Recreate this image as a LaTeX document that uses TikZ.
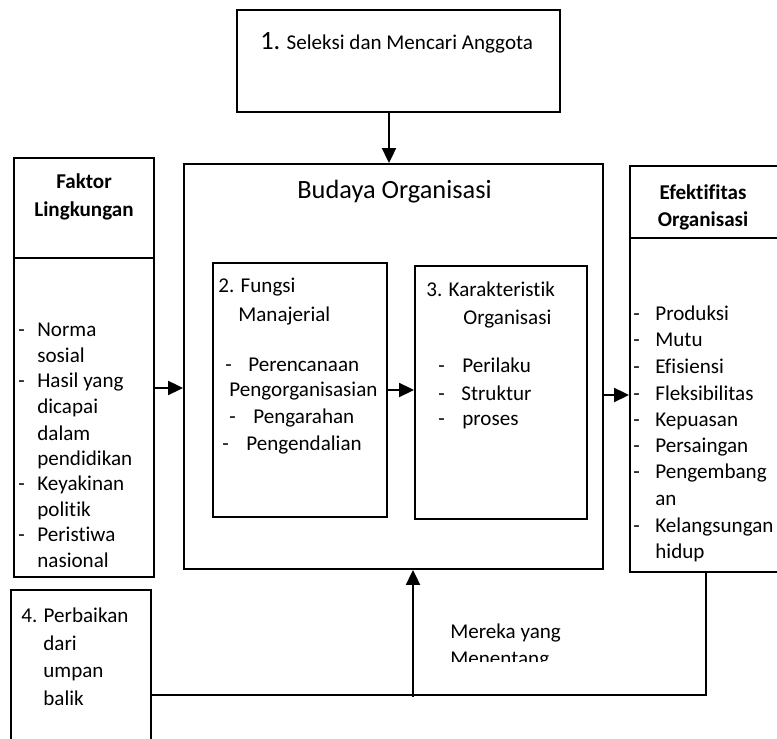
\documentclass[tikz,border=0pt]{standalone}
\usepackage{fontspec}
\setmainfont{Carlito}[Ligatures={NoCommon,NoContextual}, RawFeature={-liga;-clig;-dlig}]
\usetikzlibrary{arrows.meta, calc}

\tikzset{
  box/.style={draw, line width=1.1pt, inner sep=0pt},
  arr/.style={-{Triangle[length=0.3cm, width=0.28cm]}, line width=1.1pt},
  txt/.style={anchor=base west, inner sep=0pt, font=\fontsize{12}{14}\selectfont},
  head/.style={anchor=base, inner sep=0pt, font=\fontsize{12}{14}\selectfont\bfseries},
}

\begin{document}
\begin{tikzpicture}[x=0.02cm, y=-0.02cm]
  \useasboundingbox (0,0) rectangle (777,739);
  \fill[white] (0,0) rectangle (777,739);
  \clip (0,0) rectangle (777,739);

  % Seleksi
  \node[box, minimum width=6.46cm, minimum height=2.04cm] (seleksi) at (398.5,61) {};
  \node[txt] (seleksi-txt) at (260,50) {{\fontsize{15}{18}\selectfont 1.} Seleksi dan Mencari Anggota};

  % Budaya organisasi
  \node[box, minimum width=8.38cm, minimum height=8.1cm] (budaya) at (393.5,366.5) {};
  \node[txt, font=\fontsize{15}{18}\selectfont] (budaya-txt) at (297,199) {Budaya Organisasi};

  % Fungsi manajerial
  \node[box, minimum width=3.48cm, minimum height=5.08cm] (fungsi) at (300,390) {};
  \foreach \x/\y/\t [count=\i] in {218/293/{2. Fungsi}, 238/322/Manajerial,
      225/372/-, 248/372/Perencanaan, 229/397/Pengorganisasian,
      229/423/-, 253/423/Pengarahan, 222/450/-, 246/450/Pengendalian}
    \node[txt] (fm\i) at (\x,\y) {\t};

  % Karakteristik organisasi
  \node[box, minimum width=3.44cm, minimum height=5.06cm] (karakter) at (501,392.5) {};
  \foreach \x/\y/\t [count=\i] in {426/297/{3. Karakteristik}, 463/325/Organisasi,
      438/373/-, 462/373/Perilaku, 438/400/-, 461/400/Struktur,
      438/425/-, 462/425/proses}
    \node[txt] (ko\i) at (\x,\y) {\t};

  % Faktor lingkungan
  \node[box, minimum width=2.8cm, minimum height=8.38cm] (faktor) at (84,367.5) {};
  \coordinate (faktor-sep) at (0,258);
  \draw[line width=1.1pt] (faktor.west |- faktor-sep) -- (faktor.east |- faktor-sep);
  \node[head] (faktor-h1) at (84,189) {Faktor};
  \node[head] (faktor-h2) at (84,217) {Lingkungan};
  \foreach \y/\t in {337/Norma, 363/sosial, 388/{Hasil yang}, 414/dicapai, 440/dalam,
      465/pendidikan, 490/Keyakinan, 516/politik, 541/Peristiwa, 567/nasional}
    \node[txt] (fk\y) at (37,\y) {\t};
  \foreach \y in {337,388,490,541}
    \node[txt] (fk-d\y) at (18,\y) {-};

  % Efektifitas organisasi
  \node[box, minimum width=3.4cm, minimum height=8.12cm] (efektif) at (715,369) {};
  \coordinate (efektif-sep) at (0,238);
  \draw[line width=1.1pt] (efektif.west |- efektif-sep) -- (efektif.east |- efektif-sep);
  \node[head] (efektif-h1) at (703,200) {Efektifitas};
  \node[head] (efektif-h2) at (703,227) {Organisasi};
  \foreach \y/\t in {321/Produksi, 347/Mutu, 374/Efisiensi, 400/Fleksibilitas,
      426/Kepuasan, 453/Persaingan, 479/Pengembang, 505/an, 532/Kelangsungan, 558/hidup}
    \node[txt] (ef\y) at (655,\y) {\t};
  \foreach \y in {321,347,374,400,426,453,479,532}
    \node[txt] (ef-d\y) at (633,\y) {-};

  % Perbaikan
  \node[box, minimum width=2.8cm, minimum height=3.8cm] (perbaikan) at (81,685) {};
  \foreach \x/\y/\t [count=\i] in {21/622/{4. Perbaikan}, 43/650/dari, 43/677/umpan, 43/705/balik}
    \node[txt] (pb\i) at (\x,\y) {\t};

  % Mereka yang menentang
  \coordinate (lawan) at (413,697);
  \node[txt] (lawan-txt1) at (450,638) {Mereka yang};
  \begin{scope}
    \clip (440,645) rectangle (600,661);
    \node[txt] (lawan-txt2) at (450,665) {Menentang};
  \end{scope}

  % Panah
  \draw[arr] ([xshift=-0.19cm]seleksi.south) -- ([xshift=-0.09cm]budaya.north);
  \draw[arr] ([yshift=-0.41cm]faktor.east) -- ([yshift=-0.43cm]budaya.west);
  \draw[arr] (fungsi.east) -- (fungsi.east -| karakter.west);
  \draw[arr] ([yshift=-0.57cm]budaya.east) -- ([yshift=-0.52cm]efektif.west);
  \draw[arr] (lawan) -- (lawan |- budaya.south);
  % Umpan balik
  \draw[line width=1.1pt] ([xshift=-0.18cm]efektif.south) |- ([yshift=-0.2cm]perbaikan.east);
\end{tikzpicture}
\end{document}
